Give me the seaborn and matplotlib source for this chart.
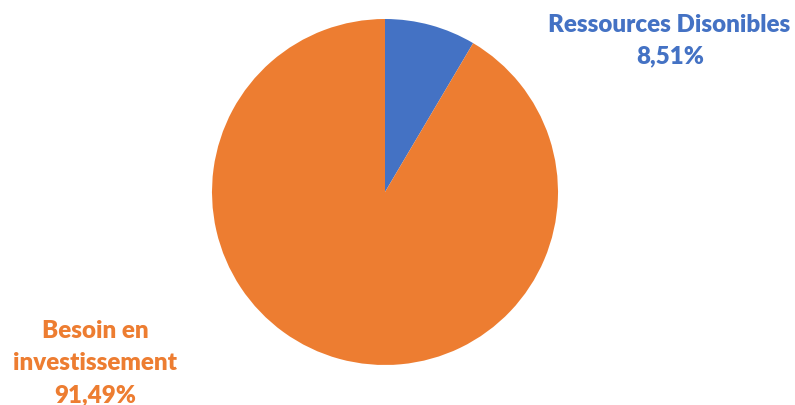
import matplotlib
matplotlib.use("Agg")
import matplotlib.pyplot as plt
import seaborn as sns

# Répartition des ressources
categories = ["Ressources Disonibles", "Besoin en\ninvestissement"]
values = [8.51, 91.49]
value_labels = ["8,51%", "91,49%"]
colors = ["#4472C4", "#ED7D31"]

sns.set_theme(style="white")
plt.rcParams["font.family"] = ["Lato", "DejaVu Sans"]

W, H = 795, 406
fig = plt.figure(figsize=(W / 100, H / 100), dpi=100)
cx, cy, r = 385, 193, 173
ax = fig.add_axes([(cx - r) / W, (H - cy - r) / H, 2 * r / W, 2 * r / H])
ax.pie(values, colors=colors, startangle=90, counterclock=False,
       radius=1.0, wedgeprops=dict(linewidth=0))
ax.set_xlim(-1, 1)
ax.set_ylim(-1, 1)
ax.set_aspect("equal")
ax.axis("off")

fs = 17.4
fig.text(669 / W, 1 - 32 / H, categories[0], ha="center", va="baseline",
         color=colors[0], fontsize=fs, fontweight="heavy")
fig.text(670 / W, 1 - 63 / H, value_labels[0], ha="center", va="baseline",
         color=colors[0], fontsize=fs, fontweight="heavy")

left_lines = categories[1].split("\n") + [value_labels[1]]
for line, base in zip(left_lines, [338, 370, 402]):
    fig.text(95 / W, 1 - base / H, line, ha="center", va="baseline",
             color=colors[1], fontsize=fs, fontweight="heavy")

fig.savefig("out.png", dpi=100, facecolor="white")
